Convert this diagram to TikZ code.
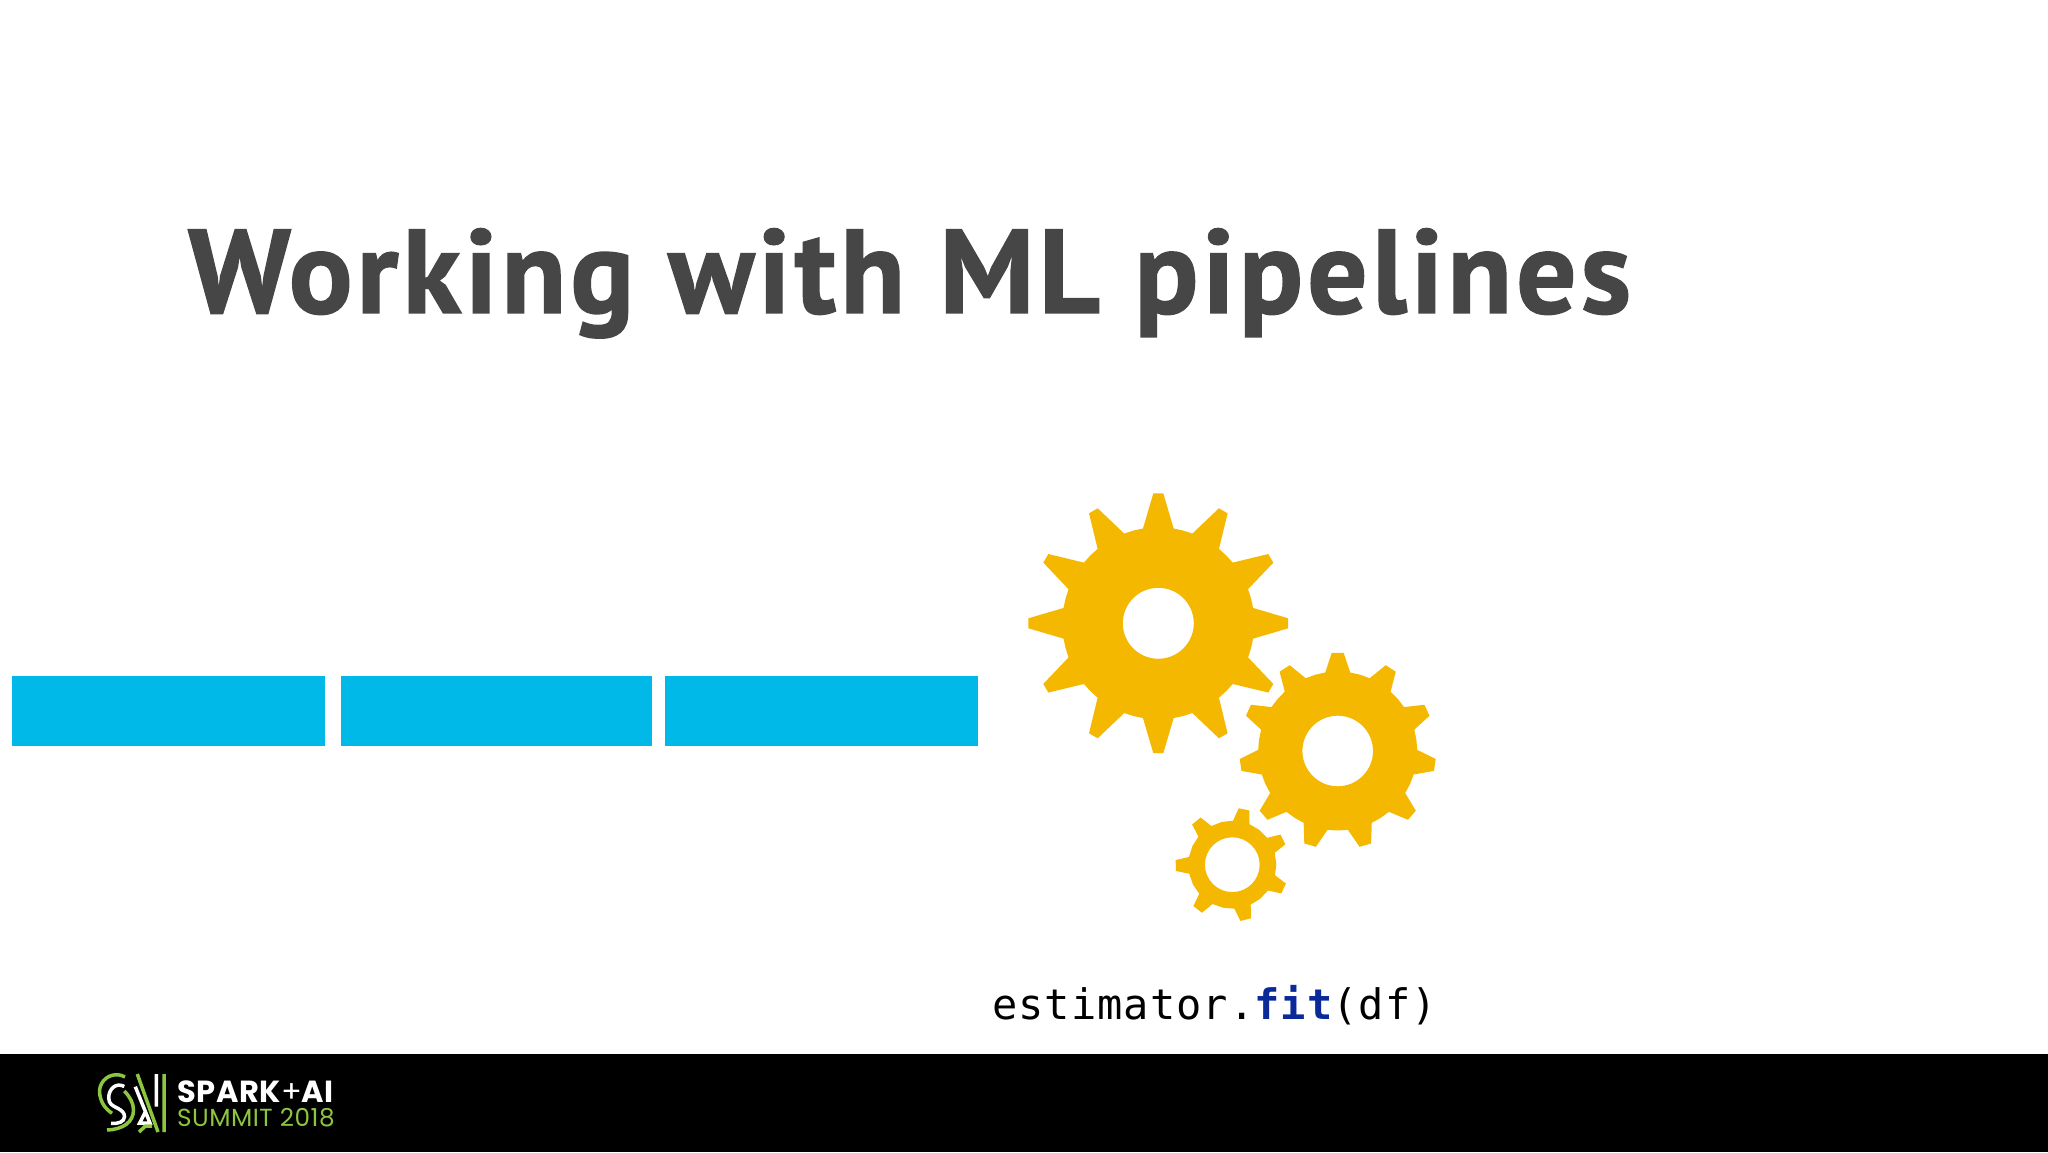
\documentclass[tikz,border=0pt]{standalone}
\usepackage{fontspec}
\newfontfamily\titlefont[LetterSpace=3.5,BoldFeatures={FakeBold=1.2}]{PT Sans}
\newfontfamily\codefont[LetterSpace=2.5]{DejaVu Sans Mono}
\newfontfamily\logofont[LetterSpace=2]{Poppins}
\definecolor{gearyellow}{HTML}{F5B800}
\definecolor{stageblue}{HTML}{00B9E8}
\definecolor{titlegray}{HTML}{464646}
\definecolor{fitblue}{HTML}{0A2A9A}
\definecolor{logogreen}{HTML}{8CC63F}
\tikzset{
  stage/.style={fill=stageblue, draw=none},
  logogreenline/.style={draw=logogreen, line width=3.5pt},
  logowhiteline/.style={draw=white, line width=3.5pt},
}
% #1 center, #2 teeth, #3 first tooth angle, #4 outer r, #5 root r, #6 tip half angle, #7 base half angle, #8 hole r
\newcommand*\gear[8]{
  \pgfmathsetmacro{\gstep}{360/#2}
  \pgfmathtruncatemacro{\glast}{#2-1}
  \fill[gearyellow, even odd rule, shift={(#1)}] (#3+#7:#5)
    foreach \k [evaluate=\k as \ga using #3-\k*\gstep] in {0,...,\glast}{
      -- (\ga+#7:#5) -- (\ga+#6:#4) -- (\ga-#6:#4) -- (\ga-#7:#5) -- (\ga-\gstep/2:#5)
    } -- cycle (0,0) circle (#8);
}
\begin{document}
\begin{tikzpicture}[x=1pt,y=1pt]
        \useasboundingbox (0,0) rectangle (2048,1152);
        \fill[white] (0,0) rectangle (2048,1152);
        \fill[black] (0,0) rectangle (2048,98);
        %
        \node[anchor=base west, inner sep=0pt, text=titlegray] (title) at (188,839)
          {\fontsize{119}{119}\titlefont\bfseries Working with ML pipelines};
        %
        \fill[stage] (12,406) rectangle (325,475.5);
        \fill[stage] (341,406) rectangle (652,475.5);
        \fill[stage] (665,406) rectangle (978,475.5);
        %
        \gear{1158.3,528.7}{12}{90}{130}{96}{2.2}{9.2}{35.5}
        \gear{1337.7,401}{11}{90}{98.3}{79.5}{3.5}{9}{35.3}
        \gear{1232.3,287.3}{7}{78}{56.8}{44}{5.5}{11}{27.4}
        %
        \node[anchor=base west, inner sep=0pt] (code) at (992,133)
          {\fontsize{42}{42}\codefont estimator.{\color{fitblue}\bfseries fit}(df)};
        %
        \draw[logogreenline] (125,75) arc[start angle=60, end angle=195, radius=17]
          .. controls (102,47) and (107,42) .. (112,38.7);
        \draw[logogreenline] (124.3,61) .. controls (130,55) and (133.5,49) .. (133.5,42)
          .. controls (133.5,30) and (123,22.5) .. (107,22);
        \draw[logowhiteline] (124.3,65.5) .. controls (116,70) and (108.7,63) .. (108.7,54)
          .. controls (108.7,48) and (113,46) .. (117.7,43.7)
          .. controls (122,41.5) and (124.5,39) .. (124.5,35.5)
          .. controls (124.5,30) and (118,28) .. (111,28.7);
        \draw[logogreenline] (137.3,78) -- (158,20) (164,78) -- (164,20);
        \draw[logowhiteline] (135.3,65.3) -- (150,29) -- (139.7,29) -- (145.3,40) (156.3,78) -- (156.3,45.3);
        \draw[logogreenline] (139,20) -- (145.5,26) -- (152,26);
        %
        \node[anchor=base west, inner sep=0pt, text=white] (spark) at (177,50)
          {\fontsize{30.5}{30.5}\logofont\bfseries SPARK{\mdseries+}AI};
        \node[anchor=base west, inner sep=0pt, text=logogreen] (summit) at (177,26)
          {\fontsize{24.7}{24.7}\logofont SUMMIT 2018};
\end{tikzpicture}
\end{document}
